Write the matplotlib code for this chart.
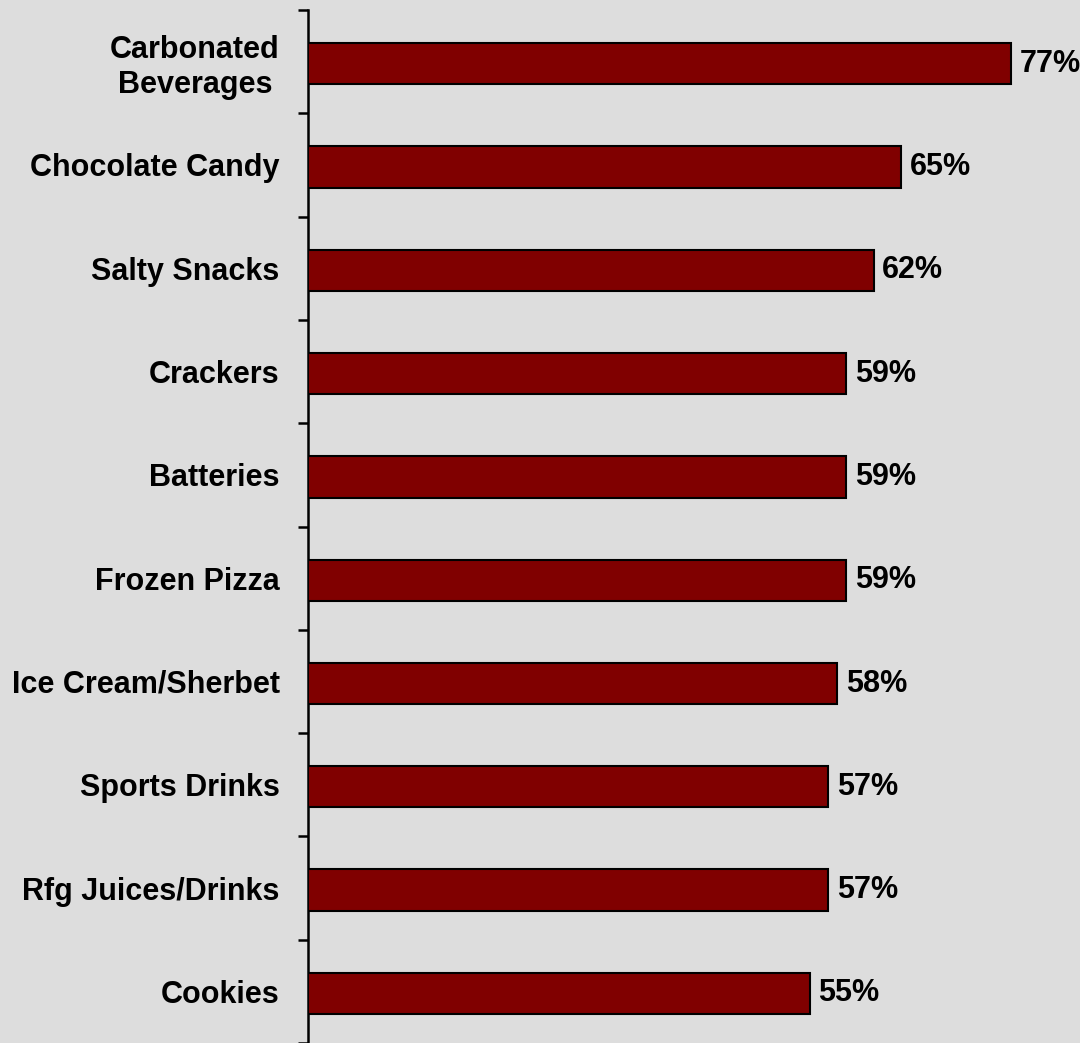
import matplotlib
matplotlib.use("Agg")
import matplotlib.pyplot as plt
from matplotlib.ticker import FixedLocator
import numpy as np

plt.rcParams['font.family'] = ['Liberation Sans', 'DejaVu Sans']

categories = ["Carbonated\nBeverages", "Chocolate Candy", "Salty Snacks", "Crackers",
              "Batteries", "Frozen Pizza", "Ice Cream/Sherbet", "Sports Drinks",
              "Rfg Juices/Drinks", "Cookies"]
values = [77, 65, 62, 59, 59, 59, 58, 57, 57, 55]
value_labels = [f"{v}%" for v in values]

bg = "#dddddd"
bar_color = "#800000"

fig = plt.figure(figsize=(10.8, 10.43), dpi=100, facecolor=bg)
ax = fig.add_axes([307.5 / 1080, 0.0, 1 - 307.5 / 1080, 1 - 10 / 1043])
ax.set_facecolor(bg)

n = len(categories)
y = np.arange(n)
ax.barh(y + 0.02, values, height=0.40, color=bar_color, edgecolor="black", linewidth=1.5, zorder=3)

for yi, v, lab in zip(y, values, value_labels):
    ax.text(v + 0.95, yi + 0.02, lab, va="center", ha="left", fontsize=22, fontweight="bold", color="black")

ax.set_xlim(0, 84.6)
ax.set_ylim(n - 0.5, -0.5)

ax.set_yticks(y)
ax.set_yticklabels(categories, fontsize=22, fontweight="bold", multialignment="center")
ax.tick_params(axis="y", which="major", length=0, pad=20)
ax.yaxis.set_minor_locator(FixedLocator(np.arange(-0.5, n, 1.0)))
ax.tick_params(axis="y", which="minor", length=7.5, width=1.8, color="black", direction="out")
ax.set_xticks([])

for side in ["top", "right", "bottom"]:
    ax.spines[side].set_visible(False)
ax.spines["left"].set_linewidth(1.8)
ax.spines["left"].set_color("black")

fig.savefig("out.png", dpi=100, facecolor=bg)
